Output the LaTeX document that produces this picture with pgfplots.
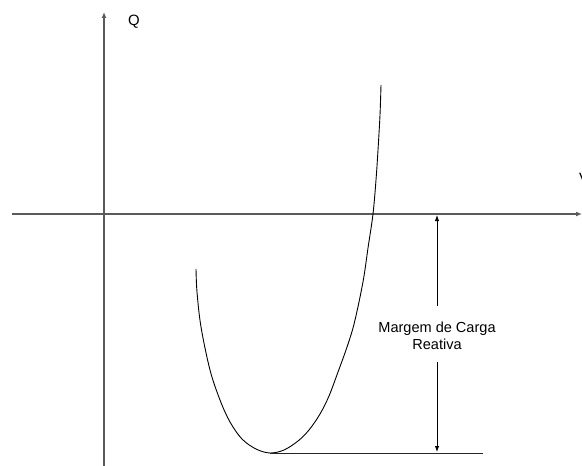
\documentclass[border=0pt]{standalone}
\usepackage{fontspec}
\setmainfont{Liberation Sans}
\usepackage{pgfplots}
\pgfplotsset{compat=1.18}
\usetikzlibrary{arrows.meta}
\definecolor{axisgray}{HTML}{5A5A5A}
\begin{document}
\begin{tikzpicture}
\begin{axis}[
  width=582bp, height=466bp, scale only axis,
  xmin=0, xmax=582, ymin=0, ymax=466, y dir=reverse,
  hide axis, clip=false,
]
% Q and V axes
\addplot[axisgray, line width=1.3bp, -{Latex[length=6bp,width=5bp]}] coordinates {(104,466) (104,12)};
\addplot[axisgray, line width=1.3bp, -{Latex[length=6bp,width=5bp]}] coordinates {(12,214) (582,214)};
% Q-V curve
\addplot[black, line width=0.9bp, smooth, tension=0.55] coordinates {
  (196,269) (197,292) (201,327) (210,370) (220,400) (230,422) (242,439)
  (256,449) (270,453) (284,450) (298,441) (309,430) (320,414) (329,396)
  (338,372) (346,350) (353,328) (359,302) (364,276) (368,248) (373,214)
  (376,180) (378,150) (380,115) (381,85)};
% reference line at the minimum
\addplot[black!85, line width=1bp] coordinates {(270,453) (483,453)};
% margin arrows
\addplot[black, line width=0.9bp, -{Latex[length=6bp,width=4.5bp]}] coordinates {(437,306) (437,215)};
\addplot[black, line width=0.9bp, -{Latex[length=6bp,width=4.5bp]}] coordinates {(437,362) (437,452)};
\node[align=center, font=\fontsize{14.6}{17}\selectfont, inner sep=0pt] at (axis cs:437,336) {Margem de Carga\\Reativa};
\node[font=\fontsize{15}{18}\selectfont, inner sep=0pt] at (axis cs:134,22) {Q};
\node[font=\fontsize{15}{18}\selectfont, inner sep=0pt, anchor=west] at (axis cs:579,178) {V};
\end{axis}
\pgfresetboundingbox
\path[use as bounding box] (current axis.south west) rectangle (current axis.north east);
\end{tikzpicture}
\end{document}
